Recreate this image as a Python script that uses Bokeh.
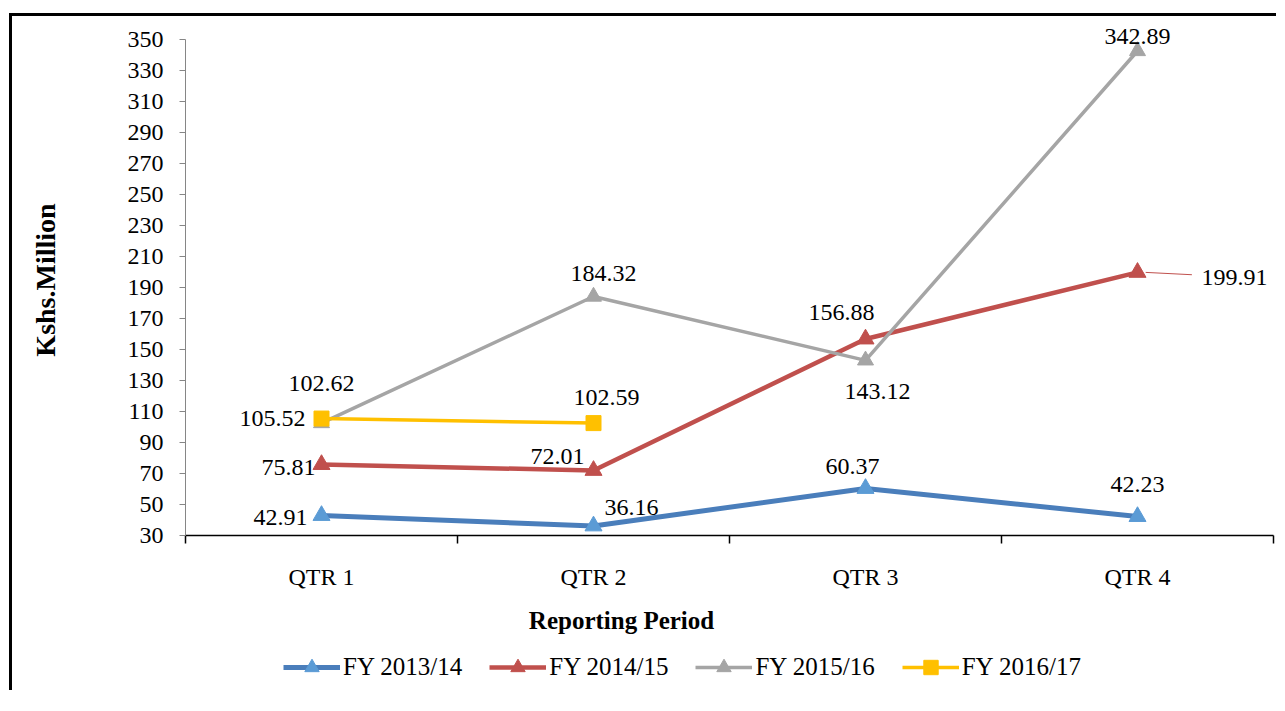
from bokeh.plotting import figure
from bokeh.layouts import column
from bokeh.models import (ColumnDataSource, LabelSet, Legend, LegendItem, Range1d,
                          FixedTicker, Label)
from bokeh.embed import file_html
from bokeh.resources import INLINE

# ---- data ----
quarters = ["QTR 1", "QTR 2", "QTR 3", "QTR 4"]
series_names = ["FY 2013/14", "FY 2014/15", "FY 2015/16", "FY 2016/17"]
fy_2013_14 = [42.91, 36.16, 60.37, 42.23]
fy_2014_15 = [75.81, 72.01, 156.88, 199.91]
fy_2015_16 = [102.62, 184.32, 143.12, 342.89]
fy_2016_17 = [105.52, 102.59]
y_ticks = list(range(30, 351, 20))
x_title = "Reporting Period"
y_title = "Kshs.Million"

series_values = [fy_2013_14, fy_2014_15, fy_2015_16, fy_2016_17]

# ---- styles ----
line_colors = ["#4A7EBB", "#C0504D", "#A5A5A5", "#FFC000"]
marker_colors = ["#5B9BD5", "#C0504D", "#A5A5A5", "#FFC000"]
markers = ["triangle", "triangle", "triangle", "square"]
line_widths = [5, 4.5, 3.5, 3.5]
marker_sizes = [17, 17, 16, 15]
# label offsets (screen px, x right / y up) per series per point
label_dx = [[-41, 38, -13, 0], [-33, -36, -24, 97], [0, 10, 12, 0], [-49, 13]]
label_dy = [[-2, 18, 22, 32], [-3, 14, 27, -5], [40, 23, -31, 14], [0, 26]]

FONT = "Liberation Serif"
W = 1264

p = figure(width=W, height=584, output_backend="svg", toolbar_location=None,
           x_range=Range1d(0, 4), y_range=Range1d(30, 360),
           min_border_left=173, min_border_top=8, min_border_bottom=65,
           min_border_right=3)
p.grid.visible = False
p.outline_line_color = None

# x axis
xpos = [i + 0.5 for i in range(len(quarters))]
p.xaxis.ticker = FixedTicker(ticks=xpos, minor_ticks=list(range(len(quarters) + 1)))
p.xaxis.major_label_overrides = {x: q for x, q in zip(xpos, quarters)}
p.xaxis.major_tick_line_color = None
p.xaxis.major_tick_out = 0
p.xaxis.minor_tick_out = 8
p.xaxis.minor_tick_in = 0
p.xaxis.minor_tick_line_color = "black"
p.xaxis.minor_tick_line_width = 1.5
p.xaxis.axis_line_color = "black"
p.xaxis.axis_line_width = 1.5
p.xaxis.major_label_text_font = FONT
p.xaxis.major_label_text_font_size = "24px"
p.xaxis.major_label_text_color = "black"
p.xaxis.major_label_standoff = 20

# y axis
p.yaxis.ticker = FixedTicker(ticks=y_ticks)
p.yaxis.bounds = (y_ticks[0], y_ticks[-1])
p.yaxis.axis_line_color = "#868686"
p.yaxis.major_tick_line_color = "#868686"
p.yaxis.minor_tick_line_color = None
p.yaxis.major_tick_out = 6
p.yaxis.major_tick_in = 0
p.yaxis.major_label_text_font = FONT
p.yaxis.major_label_text_font_size = "24px"
p.yaxis.major_label_text_color = "black"
p.yaxis.major_label_standoff = 16
p.yaxis.axis_label = y_title
p.yaxis.axis_label_text_font = FONT
p.yaxis.axis_label_text_font_style = "bold"
p.yaxis.axis_label_text_font_size = "28px"
p.yaxis.axis_label_text_color = "black"
p.yaxis.axis_label_standoff = 64

# bottom strip: x-axis title + legend (series data kept off-range)
leg = figure(width=W, height=90, output_backend="svg", toolbar_location=None,
             x_range=Range1d(0, 4), y_range=Range1d(-90, 0),
             min_border=0)
leg.axis.visible = False
leg.grid.visible = False
leg.outline_line_color = None

items = []
for k, (name, vals) in enumerate(zip(series_names, series_values)):
    src = ColumnDataSource(dict(
        x=[xpos[i] for i in range(len(vals))],
        y=vals,
        t=["%.2f" % v for v in vals],
        dx=label_dx[k],
        dy=label_dy[k],
    ))
    p.line("x", "y", source=src, line_color=line_colors[k], line_width=line_widths[k])
    p.scatter("x", "y", source=src, marker=markers[k], size=marker_sizes[k],
              fill_color=marker_colors[k], line_color=marker_colors[k])
    labels = LabelSet(x="x", y="y", text="t", x_offset="dx", y_offset="dy", source=src,
                      text_font=FONT, text_font_size="24px", text_color="black",
                      text_align="center", text_baseline="middle")
    p.add_layout(labels)

    lr = leg.line("x", "y", source=src, line_color=line_colors[k], line_width=line_widths[k])
    sr = leg.scatter("x", "y", source=src, marker=markers[k], size=marker_sizes[k],
                     fill_color=marker_colors[k], line_color=marker_colors[k])
    items.append(LegendItem(label=name, renderers=[lr, sr]))

# leader line for FY 2014/15 QTR 4 label
lx = xpos[3]
ly = fy_2014_15[3]
p.line([lx + 0.03, lx + 0.2], [ly, ly - 1.5], line_color="#C0504D", line_width=1)

leg.add_layout(Label(x=1.603, y=-20, text=x_title, text_align="center",
                     text_baseline="middle", text_font=FONT, text_font_size="25px",
                     text_font_style="bold", text_color="black"))

legend = Legend(items=items, orientation="horizontal", location=(98, 5),
                glyph_width=57, glyph_height=36, label_standoff=3, spacing=27,
                padding=0, margin=0, border_line_color=None,
                background_fill_alpha=0,
                label_text_font=FONT, label_text_font_size="25px",
                label_text_color="black")
leg.add_layout(legend)

layout = column(p, leg, spacing=0)
layout.margin = (13, 0, 0, 9)
layout.styles = {"border-left": "3px solid black", "border-top": "3px solid black"}

open("out.html", "w").write(file_html(layout, INLINE))
